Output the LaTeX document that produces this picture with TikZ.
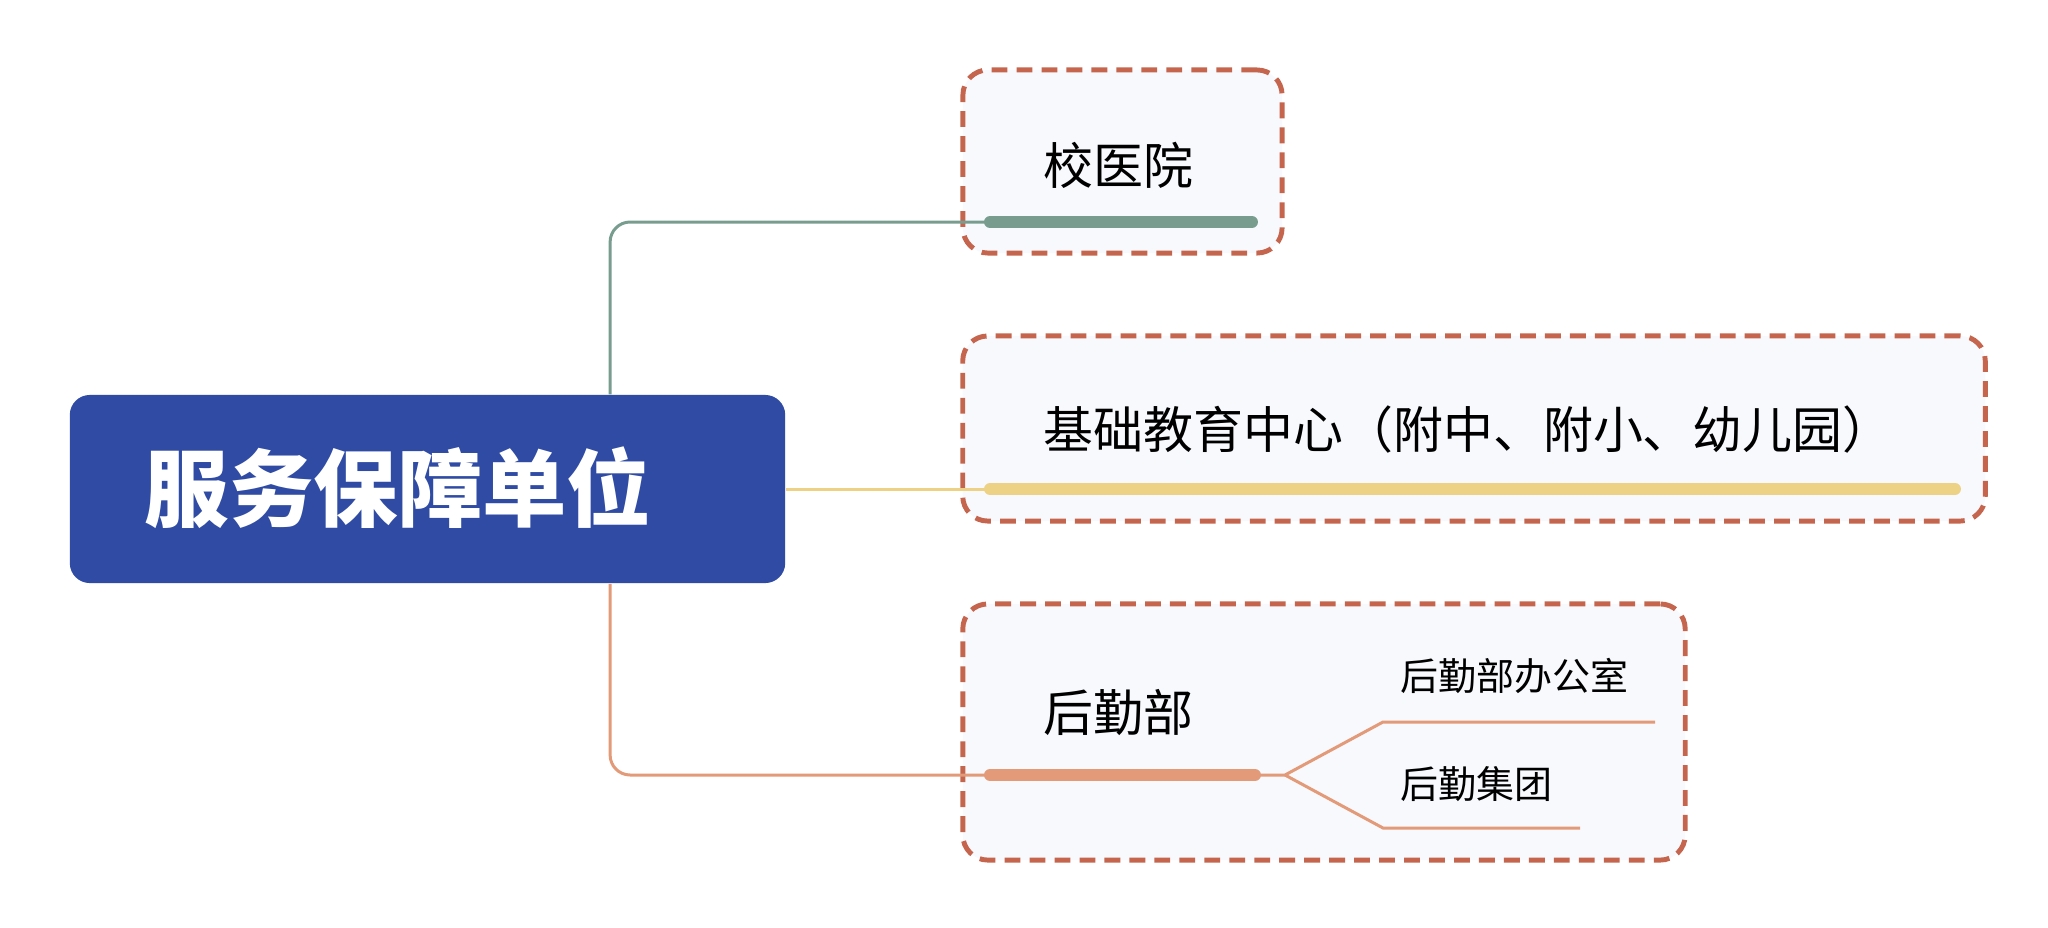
\documentclass[tikz,border=0pt]{standalone}
\usepackage{fontspec}
\newfontfamily\cjk{Noto Sans CJK SC}
\usetikzlibrary{positioning}
\definecolor{rootblue}{HTML}{2F4BA4}
\definecolor{dashred}{HTML}{C5654D}
\definecolor{paleblue}{HTML}{F7F9FD}
\definecolor{hospgreen}{HTML}{789D8F}
\definecolor{eduyellow}{HTML}{EDD185}
\definecolor{logiorange}{HTML}{E39A78}

\begin{document}
\begin{tikzpicture}[x=0.01cm, y=-0.01cm, lbl/.style={anchor=west, inner sep=0pt, font=\cjk\fontsize{14.2}{16}\selectfont}, sublbl/.style={anchor=west, inner sep=0pt, font=\cjk\fontsize{10.8}{13}\selectfont}]
\tikzstyle{grp}=[draw=dashred, line width=1.4pt, dash pattern=on 4.5pt off 2.6pt, rounded corners=0.25cm, fill=paleblue, inner sep=0pt]
\tikzstyle{lnk}=[line width=0.85pt, rounded corners=0.2cm]
\useasboundingbox (0,0) rectangle (2048,927);
% root
\node[fill=rootblue, rounded corners=0.2cm, minimum width=7.15cm, minimum height=1.88cm] (root) at (427.5,489) {};
\node[text=white, inner sep=0pt, font=\cjk\bfseries\fontsize{24}{26}\selectfont] (roott) at (398,488) {服务保障单位};
% groups
\node[grp, minimum width=3.19cm, minimum height=1.83cm] (hosp) at (1122.5,161.5) {};
\node[grp, minimum width=10.22cm, minimum height=1.85cm] (edu) at (1474,428.5) {};
\node[grp, minimum width=7.22cm, minimum height=2.56cm] (logi) at (1324,732) {};
\node[lbl] (hospt) at (1043,165) {校医院};
\node[lbl] (edut) at (1043,430) {基础教育中心（附中、附小、幼儿园）};
\node[lbl] (logit) at (1043,713) {后勤部};
\node[sublbl] (office) at (1400,676) {后勤部办公室};
\node[sublbl] (group) at (1400,784) {后勤集团};
% underlines
\coordinate (u1s) at (990,222); \coordinate (u1e) at (1252,222);
\coordinate (u2s) at (990,489); \coordinate (u2e) at (1955,489);
\coordinate (u3s) at (990,775); \coordinate (u3e) at (1255,775);
\coordinate (fork) at (1285,775);
\coordinate (b1) at (1383,722); \coordinate (b1e) at (1655,722);
\coordinate (b2) at (1383,828); \coordinate (b2e) at (1580,828);
\foreach \n/\c in {1/hospgreen,2/eduyellow,3/logiorange}{\draw[line width=3.4pt, line cap=round, \c] (u\n s) -- (u\n e);}
% links
\draw[lnk, hospgreen] ([xshift=1.825cm]root.north) |- (u1s);
\draw[lnk, eduyellow] (root.east |- u2s) -- (u2s);
\draw[lnk, logiorange] ([xshift=1.825cm]root.south) |- (u3s);
\draw[line width=0.85pt, logiorange] (u3e) -- (fork) -- (b1) -- (b1e);
\draw[line width=0.85pt, logiorange] (fork) -- (b2) -- (b2e);
\end{tikzpicture}
\end{document}
